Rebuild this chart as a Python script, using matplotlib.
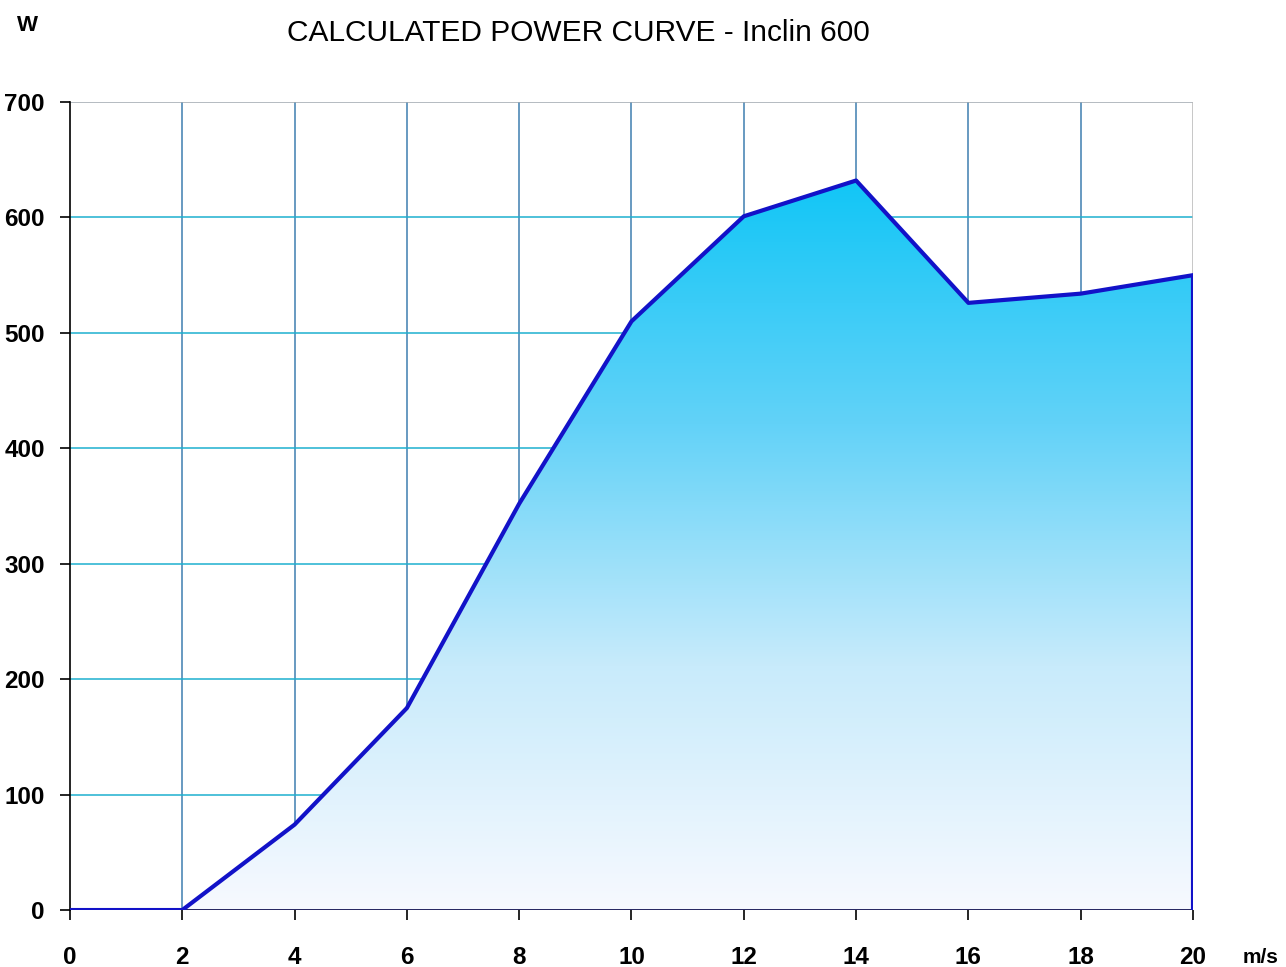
import numpy as np
import matplotlib
matplotlib.use('Agg')
import matplotlib.pyplot as plt
from matplotlib.colors import LinearSegmentedColormap
from matplotlib.patches import Polygon

# wind speed (m/s) and power (W)
wind = [0, 2, 4, 6, 8, 10, 12, 14, 16, 18, 20]
power = [0, 0, 74, 175, 352, 510, 601, 632, 526, 534, 550]
xticks = [0, 2, 4, 6, 8, 10, 12, 14, 16, 18, 20]
yticks = [0, 100, 200, 300, 400, 500, 600, 700]

plt.rcParams['font.family'] = ['Liberation Sans', 'DejaVu Sans']

fig = plt.figure(figsize=(12.86, 9.67), dpi=100)
ax = fig.add_axes([0.0544, 0.0589, 0.8733, 0.8356])
ax.set_xlim(0, 20)
ax.set_ylim(0, 700)

# grid
for x in xticks[1:-1]:
    ax.axvline(x, color='#3f7fb0', lw=1.1, zorder=1)
for y in yticks[1:-1]:
    ax.axhline(y, color='#1eb0d0', lw=1.1, zorder=1)
ax.axhline(700, color='#a0a8b0', lw=1.1, zorder=1)
ax.axvline(20, color='#b8b8b8', lw=1.1, zorder=1)

# gradient fill under the curve
cmap = LinearSegmentedColormap.from_list('pc', ['#f7f9ff', '#c8ebfb', '#62d2f8', '#12c6f6'])
ytop = max(power)
grad = np.linspace(0, 1, 256).reshape(-1, 1)
img = ax.imshow(grad, cmap=cmap, origin='lower', aspect='auto',
                extent=[0, 20, 0, ytop], zorder=2)
verts = list(zip(wind, power)) + [(20, 0), (0, 0)]
poly = Polygon(verts, closed=True, facecolor='none', edgecolor='none')
ax.add_patch(poly)
img.set_clip_path(poly)

ax.plot(wind + [20], power + [0], color='#1212c8', lw=3, zorder=4,
        solid_joinstyle='round')
ax.axhline(0, color='#101050', lw=2, zorder=3)

for s in ['top', 'right']:
    ax.spines[s].set_visible(False)
ax.spines['bottom'].set_visible(False)
ax.spines['left'].set_color('black')
ax.spines['left'].set_linewidth(1.2)

ax.set_xticks(xticks)
ax.set_yticks(yticks)
ax.tick_params(axis='x', direction='out', length=7, width=1.2, pad=19,
               labelsize=17.5)
ax.tick_params(axis='y', direction='out', length=7, width=1.2, pad=11,
               labelsize=17.5)
for lab in ax.get_xticklabels() + ax.get_yticklabels():
    lab.set_fontweight('bold')

fig.text(0.450, 0.966, 'CALCULATED POWER CURVE - Inclin 600', ha='center',
         va='center', fontsize=21.5)
fig.text(0.021, 0.974, 'W', ha='center', va='center', fontsize=16,
         fontweight='bold')
fig.text(0.98, 0.0103, 'm/s', ha='center', va='center', fontsize=15,
         fontweight='bold')

fig.savefig('out.png', dpi=100)
